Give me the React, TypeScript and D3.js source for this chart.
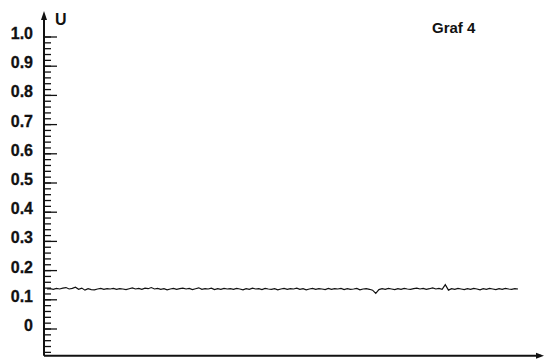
import React, { useRef, useEffect } from "react";
import * as d3 from "d3";

/* measured signal U, one sample per step */
const signal = [
  0.137, 0.138, 0.136, 0.139, 0.137, 0.14, 0.142, 0.137, 0.139, 0.143, 0.136, 0.14, 0.133, 0.138, 0.135,
  0.134, 0.137, 0.139, 0.136, 0.138, 0.137, 0.139, 0.136, 0.138, 0.137, 0.135, 0.138, 0.141, 0.137, 0.139,
  0.136, 0.14, 0.138, 0.142, 0.137, 0.139, 0.136, 0.138, 0.134, 0.137, 0.139, 0.136, 0.138, 0.14, 0.137,
  0.139, 0.135, 0.138, 0.141, 0.136, 0.138, 0.137, 0.14, 0.135, 0.138, 0.136, 0.139, 0.137, 0.138, 0.136,
  0.139, 0.137, 0.134, 0.138, 0.136, 0.14, 0.137, 0.138, 0.135, 0.139, 0.137, 0.136, 0.138, 0.134, 0.137,
  0.139, 0.136, 0.138, 0.137, 0.14, 0.136, 0.138, 0.134, 0.137, 0.139, 0.136, 0.138, 0.137, 0.135, 0.139,
  0.136, 0.138, 0.137, 0.139, 0.135, 0.138, 0.136, 0.137, 0.139, 0.134, 0.137, 0.138, 0.136, 0.133, 0.122,
  0.135, 0.138, 0.136, 0.139, 0.137, 0.135, 0.138, 0.136, 0.139, 0.137, 0.136, 0.138, 0.14, 0.137, 0.139,
  0.136, 0.138, 0.141, 0.137, 0.139, 0.136, 0.152, 0.133, 0.138, 0.136, 0.139, 0.137, 0.135, 0.138, 0.136,
  0.139, 0.137, 0.134, 0.138, 0.136, 0.139, 0.137, 0.135, 0.138, 0.136, 0.139, 0.137, 0.136, 0.138, 0.137,
];

const majorTicks = [0, 0.1, 0.2, 0.3, 0.4, 0.5, 0.6, 0.7, 0.8, 0.9, 1.0];
const tickLabels = ["0", "0.1", "0.2", "0.3", "0.4", "0.5", "0.6", "0.7", "0.8", "0.9", "1.0"];
const minorTicks = d3.range(-4, 51).map((i) => i * 0.02);

const yLabel = "U";
const title = "Graf 4";

const App = () => {
  const svgRef = useRef(null);

  const drawChart = () => {
    const width = 545;
    const height = 360;
    const axisX = 44;

    d3.select(svgRef.current).selectAll("*").remove();
    const svg = d3.select(svgRef.current).attr("width", width).attr("height", height);

    /* scales */
    const x = d3.scaleLinear().domain([0, signal.length - 1]).range([47, 518]);
    const y = d3.scaleLinear().domain([0, 1]).range([329, 37]);
    const axisY = y(-0.092);

    const font = "'Liberation Sans', Arial, sans-serif";

    /* minor + major ticks */
    svg
      .selectAll(".minor")
      .data(minorTicks)
      .enter()
      .append("line")
      .attr("x1", axisX)
      .attr("x2", axisX + 7)
      .attr("y1", (d) => y(d))
      .attr("y2", (d) => y(d))
      .attr("stroke", "#111")
      .attr("stroke-width", 1.3);

    svg
      .selectAll(".major")
      .data(majorTicks)
      .enter()
      .append("line")
      .attr("x1", axisX)
      .attr("x2", axisX + 13)
      .attr("y1", (d) => y(d))
      .attr("y2", (d) => y(d))
      .attr("stroke", "#111")
      .attr("stroke-width", 1.3);

    /* tick labels */
    svg
      .selectAll(".tlabel")
      .data(majorTicks)
      .enter()
      .append("text")
      .attr("x", 33)
      .attr("y", (d) => y(d) + 2)
      .attr("text-anchor", "end")
      .style("font-family", font)
      .style("font-size", "16px")
      .style("font-weight", "700")
      .attr("fill", "#111")
      .attr("stroke", "#111")
      .attr("stroke-width", 0.3)
      .text((d, i) => tickLabels[i]);

    /* axes with arrows */
    svg
      .append("line")
      .attr("x1", axisX)
      .attr("x2", axisX)
      .attr("y1", axisY)
      .attr("y2", 14)
      .attr("stroke", "#111")
      .attr("stroke-width", 2);
    svg
      .append("path")
      .attr("d", `M${axisX - 3},20 L${axisX},11 L${axisX + 3},20 Z`)
      .attr("fill", "#111");

    svg
      .append("line")
      .attr("x1", axisX)
      .attr("x2", 541)
      .attr("y1", axisY)
      .attr("y2", axisY)
      .attr("stroke", "#111")
      .attr("stroke-width", 2);
    svg
      .append("path")
      .attr("d", `M536,${axisY - 3} L544,${axisY} L536,${axisY + 3} Z`)
      .attr("fill", "#111");

    /* signal line */
    const line = d3
      .line()
      .x((d, i) => x(i))
      .y((d) => y(d));

    svg
      .append("path")
      .datum(signal)
      .attr("fill", "none")
      .attr("stroke", "#111")
      .attr("stroke-width", 1.2)
      .attr("d", line);

    /* axis name and title */
    svg
      .append("text")
      .attr("x", 55)
      .attr("y", 25)
      .style("font-family", font)
      .style("font-size", "16px")
      .style("font-weight", "700")
      .attr("fill", "#111")
      .text(yLabel);

    svg
      .append("text")
      .attr("x", 432)
      .attr("y", 33)
      .style("font-family", font)
      .style("font-size", "15px")
      .style("font-weight", "700")
      .attr("fill", "#111")
      .text(title);
  };

  useEffect(() => {
    drawChart();
  }, []);

  return (
    <div style={{ position: "absolute", left: 0, top: 0, background: "#fff" }}>
      <svg ref={svgRef} style={{ display: "block" }} />
    </div>
  );
};

export default App;
